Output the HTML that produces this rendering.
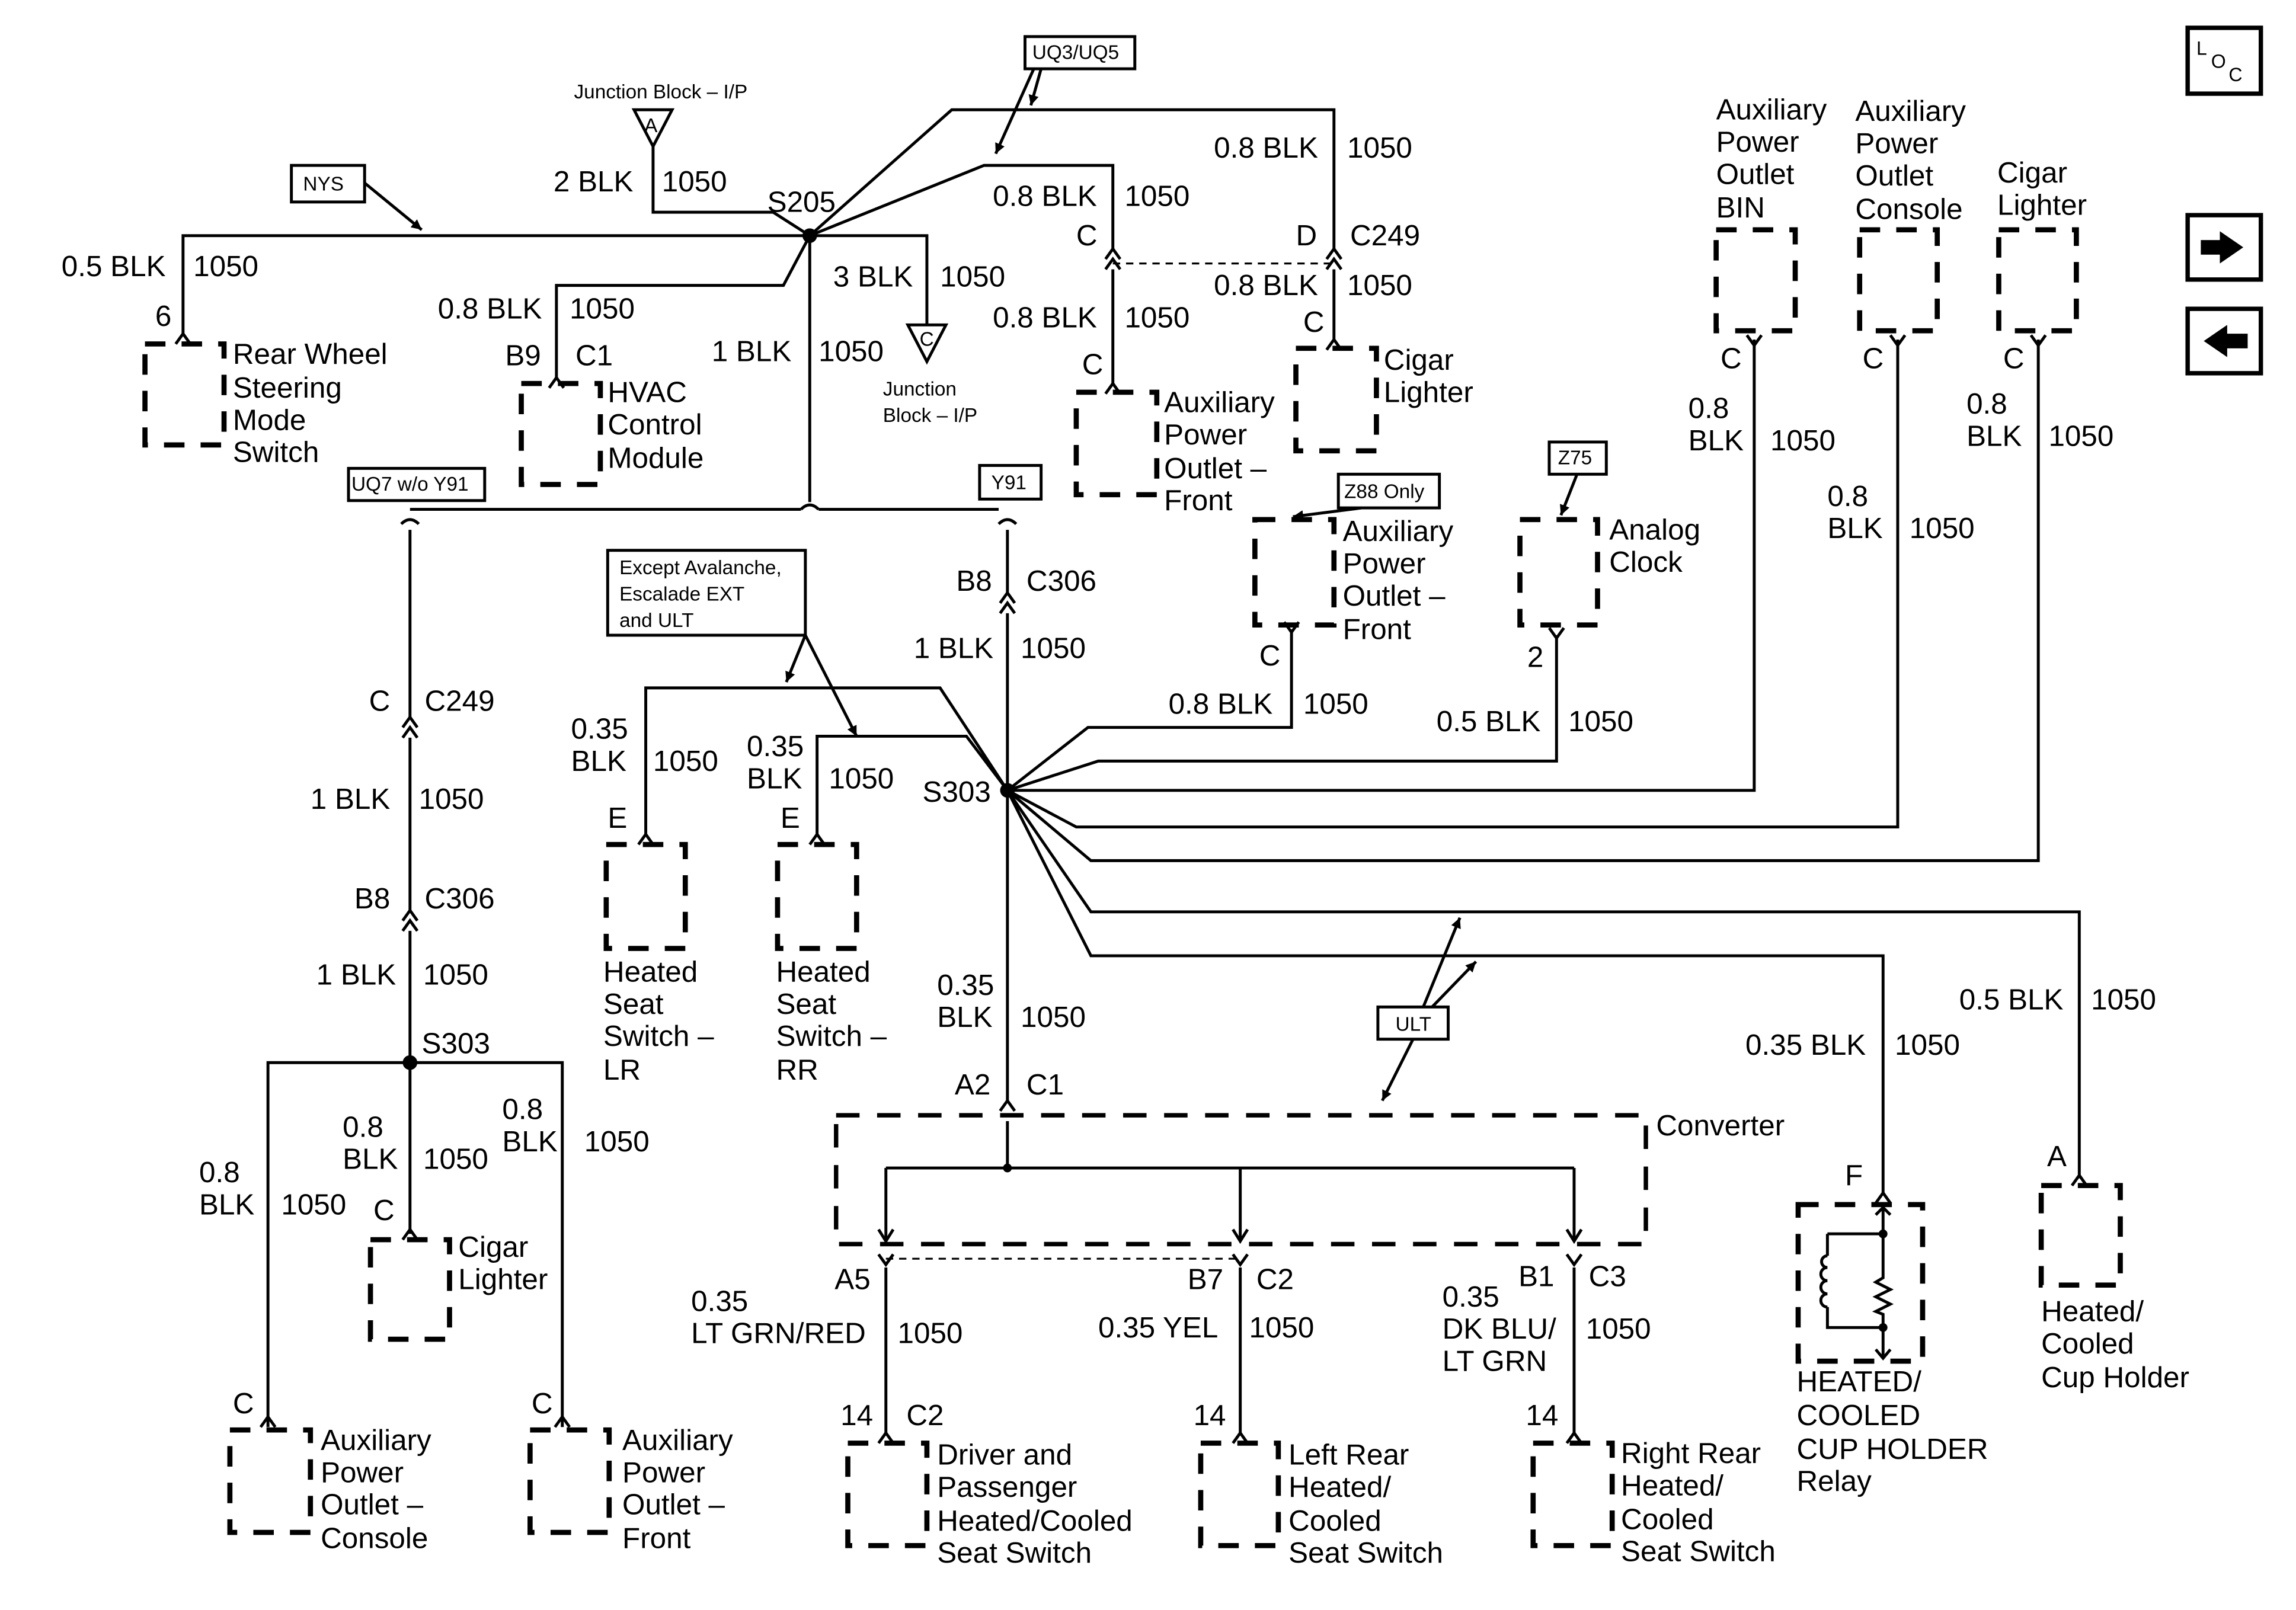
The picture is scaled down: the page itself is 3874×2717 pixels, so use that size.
<!DOCTYPE html>
<html><head><meta charset="utf-8"><style>
html,body{margin:0;padding:0;background:#fff}
svg{display:block}
text{font-family:"Liberation Sans",Arial,sans-serif;font-size:20px;fill:#000;dominant-baseline:central}
.s{font-size:13.5px}
</style></head><body>
<svg width="3874" height="2717" viewBox="0 0 1568 1100" preserveAspectRatio="none" xmlns="http://www.w3.org/2000/svg">
<defs>
<path id="v" d="M-5,7 L0,0 L5,7" fill="none" stroke="#000" stroke-width="2"/>
<path id="vv" d="M-5,7 L0,0 L5,7 M-5,14 L0,7 L5,14" fill="none" stroke="#000" stroke-width="2"/>
<marker id="ah" viewBox="0 0 10 10" refX="10" refY="5" markerWidth="7" markerHeight="7" orient="auto" markerUnits="userSpaceOnUse"><path d="M0,0 L10,5 L0,10z" fill="#000"/></marker>
</defs>
<g fill="none" stroke="#000" stroke-width="2">
<rect x="1494" y="19" width="50" height="45" stroke-width="3"/>
<rect x="1494" y="147" width="50" height="44" stroke-width="3"/>
<rect x="1494" y="211" width="50" height="44" stroke-width="3"/>
<rect x="199" y="113" width="50" height="25"/>
<rect x="700" y="25" width="75" height="22"/>
<rect x="238" y="320" width="93" height="22"/>
<rect x="669" y="318" width="42" height="23"/>
<rect x="415" y="376" width="135" height="58"/>
<rect x="914" y="324" width="69" height="23"/>
<rect x="1058" y="302" width="39" height="22"/>
<rect x="941" y="688" width="48" height="22"/>
<line x1="249" y1="125" x2="288" y2="157" marker-end="url(#ah)"/>
<line x1="711" y1="47" x2="704" y2="72" marker-end="url(#ah)"/>
<line x1="706" y1="47" x2="680" y2="105" marker-end="url(#ah)"/>
<line x1="930" y1="347" x2="883" y2="353" marker-end="url(#ah)"/>
<line x1="1077" y1="324" x2="1066" y2="352" marker-end="url(#ah)"/>
<line x1="550" y1="434" x2="537" y2="466" marker-end="url(#ah)"/>
<line x1="550" y1="434" x2="585" y2="503" marker-end="url(#ah)"/>
<line x1="972" y1="688" x2="997" y2="627" marker-end="url(#ah)"/>
<line x1="978" y1="688" x2="1008" y2="657" marker-end="url(#ah)"/>
<line x1="965" y1="710" x2="944" y2="752" marker-end="url(#ah)"/>
<path d="M433,75 L459,75 L446,100z"/>
<path d="M620,222 L646,222 L633,247z"/>
<path d="M125,228 V161 H553"/>
<path d="M446,100 V145 H528 L553,161"/>
<path d="M553,161 L650,75 H911 V170"/>
<path d="M553,161 L672,113 H760 V170"/>
<path d="M760,184 V262"/>
<path d="M911,184 V232"/>
<line x1="760" y1="180" x2="911" y2="180" stroke-dasharray="5 4" stroke-width="1.3"/>
<path d="M553,161 L535,195 H380 V258"/>
<path d="M553,161 H633 V222"/>
<path d="M553,161 V343"/>
<path d="M280,348 H547 M559,348 H682"/>
<path d="M274,358 Q280,352 286,358 M547,348 Q553,342 559,348 M682,358 Q688,352 694,358"/>
<path d="M280,362 V490 M280,504 V622 M280,636 V726"/>
<path d="M183,975 V726 H384 V975 M280,726 V843"/>
<path d="M688,362 V405 M688,419 V752"/>
<path d="M688,540 L642,470 H441 V570"/>
<path d="M688,540 L660,503 H558 V570"/>
<path d="M688,540 L743,497 H882 V430"/>
<path d="M688,540 L750,520 H1063 V434"/>
<path d="M688,540 L740,540 H1198 V232"/>
<path d="M688,540 L735,565 H1296 V232"/>
<path d="M688,540 L745,588 H1392 V232"/>
<path d="M688,540 L745,623 H1420 V805"/>
<path d="M688,540 L745,653 H1286 V815"/>
<rect x="571" y="762" width="553" height="88" stroke-width="3" stroke-dasharray="16 12"/>
<path d="M688,766 V798 M605,798 H1075 M605,798 V848 M847,798 V848 M1075,798 V848"/>
<path d="M600,840 L605,848 L610,840 M842,840 L847,848 L852,840 M1070,840 L1075,848 L1080,840"/>
<line x1="605" y1="860" x2="847" y2="860" stroke-dasharray="5 4" stroke-width="1.3"/>
<path d="M605,866 V980 M847,866 V980 M1075,866 V980"/>
<g stroke-width="3.5" stroke-dasharray="14 11">
<rect x="99" y="235" width="54" height="69"/>
<rect x="356" y="262" width="54" height="69"/>
<rect x="735" y="268" width="55" height="70"/>
<rect x="885" y="238" width="55" height="70"/>
<rect x="857" y="355" width="54" height="72"/>
<rect x="1038" y="355" width="53" height="72"/>
<rect x="1172" y="157" width="54" height="69"/>
<rect x="1270" y="157" width="53" height="69"/>
<rect x="1365" y="157" width="53" height="69"/>
<rect x="414" y="577" width="54" height="71"/>
<rect x="531" y="577" width="54" height="71"/>
<rect x="253" y="847" width="54" height="68"/>
<rect x="157" y="977" width="55" height="70"/>
<rect x="362" y="977" width="54" height="70"/>
<rect x="579" y="986" width="54" height="70"/>
<rect x="820" y="986" width="53" height="70"/>
<rect x="1047" y="986" width="54" height="70"/>
<rect x="1228" y="823" width="85" height="107"/>
<rect x="1394" y="810" width="54" height="68"/>
</g>
<path d="M1286,823 V843 M1248,843 H1286 V873 L1281,876 L1291,881 L1281,886 L1291,891 L1281,896 L1286,898 V907 H1248 V893 M1248,843 V858"/>
<path d="M1248,858 a4,4 0 0 0 0,8 a4,4 0 0 0 0,9 a4,4 0 0 0 0,9 a4,4 0 0 0 0,9"/>
<path d="M1286,907 V928 M1281,830 L1286,825 L1291,830 M1281,922 L1286,928 L1291,922"/>
</g>
<g fill="#000">
<circle cx="553" cy="161" r="5"/><circle cx="688" cy="540" r="5"/><circle cx="280" cy="726" r="5"/>
<circle cx="688" cy="798" r="3"/><circle cx="1286" cy="843" r="3"/><circle cx="1286" cy="907" r="3"/>
<path d="M1503,164 H1516 V158 L1532,169 L1516,180 V174 H1503z"/>
<path d="M1535,228 H1521 V222 L1505,233 L1521,244 V238 H1535z"/>
</g>
<use href="#v" x="125" y="228"/><use href="#v" x="380" y="258"/>
<use href="#vv" x="760" y="170"/><use href="#vv" x="911" y="170"/>
<use href="#v" x="760" y="262"/><use href="#v" x="911" y="232"/>
<use href="#v" x="1198" y="230" transform="rotate(180 1198 233)"/>
<use href="#v" x="1296" y="230" transform="rotate(180 1296 233)"/>
<use href="#v" x="1392" y="230" transform="rotate(180 1392 233)"/>
<use href="#v" x="882" y="426" transform="rotate(180 882 429)"/>
<use href="#v" x="1063" y="430" transform="rotate(180 1063 433)"/>
<use href="#vv" x="280" y="490"/><use href="#vv" x="280" y="622"/><use href="#vv" x="688" y="405"/>
<use href="#v" x="688" y="752"/>
<use href="#v" x="441" y="570"/><use href="#v" x="558" y="570"/>
<use href="#v" x="280" y="840"/><use href="#v" x="183" y="968"/><use href="#v" x="384" y="968"/>
<use href="#v" x="605" y="858" transform="rotate(180 605 861)"/>
<use href="#v" x="847" y="858" transform="rotate(180 847 861)"/>
<use href="#v" x="1075" y="858" transform="rotate(180 1075 861)"/>
<use href="#v" x="605" y="979"/><use href="#v" x="847" y="979"/><use href="#v" x="1075" y="979"/>
<use href="#v" x="1286" y="815"/><use href="#v" x="1420" y="803"/>
<text x="1500" y="33" style="font-size:13px">L</text><text x="1510" y="42" style="font-size:13px">O</text><text x="1522" y="51" style="font-size:13px">C</text>
<text class="s" x="207" y="126">NYS</text>
<text class="s" x="705" y="36">UQ3/UQ5</text>
<text class="s" x="240" y="331">UQ7 w/o Y91</text>
<text class="s" x="677" y="330">Y91</text>
<text class="s" x="423" y="388">Except Avalanche,</text>
<text class="s" x="423" y="406">Escalade EXT</text>
<text class="s" x="423" y="424">and ULT</text>
<text class="s" x="918" y="336">Z88 Only</text>
<text class="s" x="1064" y="313">Z75</text>
<text class="s" x="953" y="700">ULT</text>
<text class="s" x="392" y="63">Junction Block – I/P</text>
<text class="s" x="440" y="86">A</text>
<text class="s" x="628" y="232">C</text>
<text class="s" x="603" y="266">Junction</text>
<text class="s" x="603" y="284">Block – I/P</text>
<text x="42" y="182">0.5 BLK</text><text x="132" y="182">1050</text><text x="106" y="216">6</text>
<text x="159" y="242">Rear Wheel</text><text x="159" y="265">Steering</text><text x="159" y="287">Mode</text><text x="159" y="309">Switch</text>
<text x="378" y="124">2 BLK</text><text x="452" y="124">1050</text>
<text x="524" y="138">S205</text>
<text x="829" y="101">0.8 BLK</text><text x="920" y="101">1050</text>
<text x="678" y="134">0.8 BLK</text><text x="768" y="134">1050</text>
<text x="735" y="161">C</text><text x="885" y="161">D</text><text x="922" y="161">C249</text>
<text x="829" y="195">0.8 BLK</text><text x="920" y="195">1050</text>
<text x="678" y="217">0.8 BLK</text><text x="768" y="217">1050</text>
<text x="890" y="220">C</text><text x="739" y="249">C</text>
<text x="945" y="246">Cigar</text><text x="945" y="268">Lighter</text>
<text x="795" y="275">Auxiliary</text><text x="795" y="297">Power</text><text x="795" y="320">Outlet –</text><text x="795" y="342">Front</text>
<text x="299" y="211">0.8 BLK</text><text x="389" y="211">1050</text>
<text x="345" y="243">B9</text><text x="393" y="243">C1</text>
<text x="415" y="268">HVAC</text><text x="415" y="290">Control</text><text x="415" y="313">Module</text>
<text x="569" y="189">3 BLK</text><text x="642" y="189">1050</text>
<text x="486" y="240">1 BLK</text><text x="559" y="240">1050</text>
<text x="1172" y="75">Auxiliary</text><text x="1172" y="97">Power</text><text x="1172" y="119">Outlet</text><text x="1172" y="142">BIN</text>
<text x="1267" y="76">Auxiliary</text><text x="1267" y="98">Power</text><text x="1267" y="120">Outlet</text><text x="1267" y="143">Console</text>
<text x="1364" y="118">Cigar</text><text x="1364" y="140">Lighter</text>
<text x="1175" y="245">C</text><text x="1272" y="245">C</text><text x="1368" y="245">C</text>
<text x="1153" y="279">0.8</text><text x="1153" y="301">BLK</text><text x="1209" y="301">1050</text>
<text x="1248" y="339">0.8</text><text x="1248" y="361">BLK</text><text x="1304" y="361">1050</text>
<text x="1343" y="276">0.8</text><text x="1343" y="298">BLK</text><text x="1399" y="298">1050</text>
<text x="917" y="363">Auxiliary</text><text x="917" y="385">Power</text><text x="917" y="407">Outlet –</text><text x="917" y="430">Front</text>
<text x="860" y="448">C</text>
<text x="1099" y="362">Analog</text><text x="1099" y="384">Clock</text><text x="1043" y="449">2</text>
<text x="798" y="481">0.8 BLK</text><text x="890" y="481">1050</text>
<text x="981" y="493">0.5 BLK</text><text x="1071" y="493">1050</text>
<text x="653" y="397">B8</text><text x="701" y="397">C306</text>
<text x="624" y="443">1 BLK</text><text x="697" y="443">1050</text>
<text x="630" y="541">S303</text>
<text x="390" y="498">0.35</text><text x="390" y="520">BLK</text><text x="446" y="520">1050</text>
<text x="510" y="510">0.35</text><text x="510" y="532">BLK</text><text x="566" y="532">1050</text>
<text x="415" y="559">E</text><text x="533" y="559">E</text>
<text x="412" y="664">Heated</text><text x="412" y="686">Seat</text><text x="412" y="708">Switch –</text><text x="412" y="731">LR</text>
<text x="530" y="664">Heated</text><text x="530" y="686">Seat</text><text x="530" y="708">Switch –</text><text x="530" y="731">RR</text>
<text x="640" y="673">0.35</text><text x="640" y="695">BLK</text><text x="697" y="695">1050</text>
<text x="652" y="741">A2</text><text x="701" y="741">C1</text>
<text x="1131" y="769">Converter</text>
<text x="1338" y="683">0.5 BLK</text><text x="1428" y="683">1050</text>
<text x="1192" y="714">0.35 BLK</text><text x="1294" y="714">1050</text>
<text x="1260" y="803">F</text><text x="1398" y="790">A</text>
<text x="1394" y="896">Heated/</text><text x="1394" y="918">Cooled</text><text x="1394" y="941">Cup Holder</text>
<text x="1227" y="944">HEATED/</text><text x="1227" y="967">COOLED</text><text x="1227" y="990">CUP HOLDER</text><text x="1227" y="1012">Relay</text>
<text x="570" y="874">A5</text><text x="811" y="874">B7</text><text x="858" y="874">C2</text><text x="1037" y="872">B1</text><text x="1085" y="872">C3</text>
<text x="472" y="889">0.35</text><text x="472" y="911">LT GRN/RED</text><text x="613" y="911">1050</text>
<text x="750" y="907">0.35 YEL</text><text x="853" y="907">1050</text>
<text x="985" y="886">0.35</text><text x="985" y="908">DK BLU/</text><text x="985" y="930">LT GRN</text><text x="1083" y="908">1050</text>
<text x="574" y="967">14</text><text x="619" y="967">C2</text><text x="815" y="967">14</text><text x="1042" y="967">14</text>
<text x="640" y="994">Driver and</text><text x="640" y="1016">Passenger</text><text x="640" y="1039">Heated/Cooled</text><text x="640" y="1061">Seat Switch</text>
<text x="880" y="994">Left Rear</text><text x="880" y="1016">Heated/</text><text x="880" y="1039">Cooled</text><text x="880" y="1061">Seat Switch</text>
<text x="1107" y="993">Right Rear</text><text x="1107" y="1015">Heated/</text><text x="1107" y="1038">Cooled</text><text x="1107" y="1060">Seat Switch</text>
<text x="252" y="479">C</text><text x="290" y="479">C249</text>
<text x="212" y="546">1 BLK</text><text x="286" y="546">1050</text>
<text x="242" y="614">B8</text><text x="290" y="614">C306</text>
<text x="216" y="666">1 BLK</text><text x="289" y="666">1050</text>
<text x="288" y="713">S303</text>
<text x="136" y="801">0.8</text><text x="136" y="823">BLK</text><text x="192" y="823">1050</text>
<text x="234" y="770">0.8</text><text x="234" y="792">BLK</text><text x="289" y="792">1050</text>
<text x="343" y="758">0.8</text><text x="343" y="780">BLK</text><text x="399" y="780">1050</text>
<text x="255" y="827">C</text><text x="313" y="852">Cigar</text><text x="313" y="874">Lighter</text>
<text x="159" y="959">C</text><text x="363" y="959">C</text>
<text x="219" y="984">Auxiliary</text><text x="219" y="1006">Power</text><text x="219" y="1028">Outlet –</text><text x="219" y="1051">Console</text>
<text x="425" y="984">Auxiliary</text><text x="425" y="1006">Power</text><text x="425" y="1028">Outlet –</text><text x="425" y="1051">Front</text>
</svg>
</body></html>
